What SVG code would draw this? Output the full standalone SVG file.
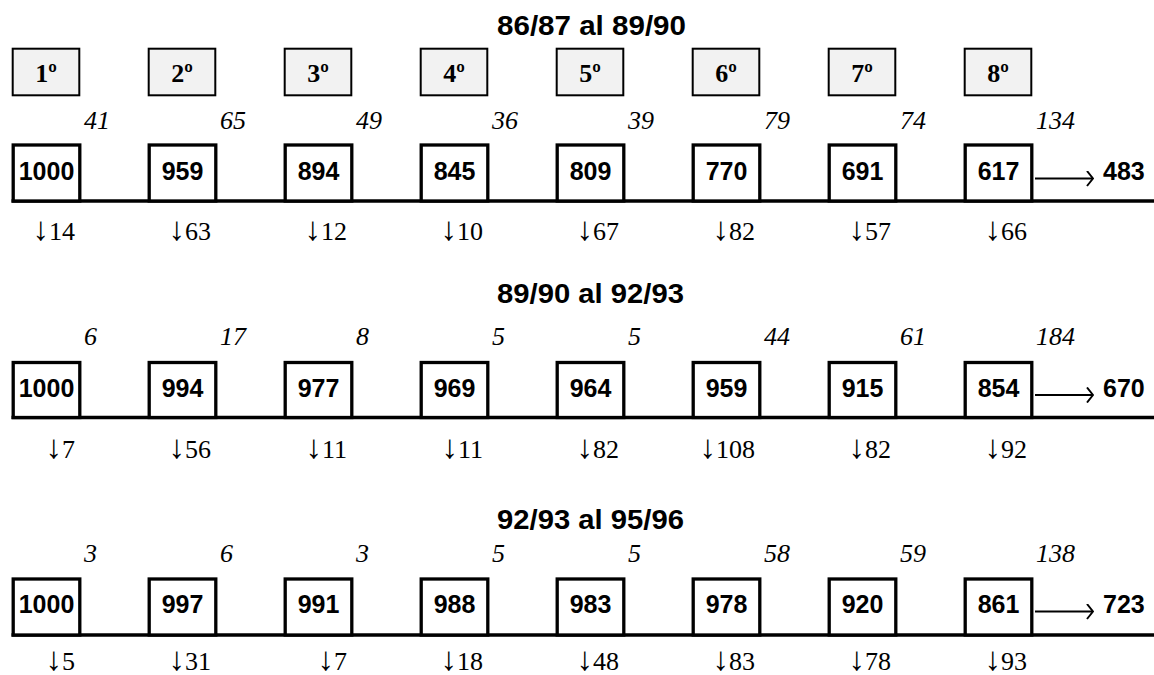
<svg xmlns="http://www.w3.org/2000/svg" width="1154" height="675" viewBox="0 0 1154 675">
<style>
.bg{fill:#ffffff}
.ord rect{fill:#f2f2f2;stroke:#000;stroke-width:2}
.ord text{font-family:"Liberation Serif","Times New Roman",serif;font-weight:bold;font-size:26px;text-anchor:middle;fill:#000}
.val rect{fill:#fff;stroke:#000;stroke-width:3.3}
.val text{font-family:"Liberation Sans",Arial,sans-serif;font-weight:bold;font-size:25px;text-anchor:middle;fill:#000}
.title{font-family:"Liberation Sans",Arial,sans-serif;font-weight:bold;font-size:28px;fill:#000}
.it{font-family:"Liberation Serif","Times New Roman",serif;font-style:italic;font-size:26px;fill:#000}
.dn{font-family:"Liberation Serif","Times New Roman",serif;font-size:26px;text-anchor:end;fill:#000}
.ar{font-size:33px}
.res{font-family:"Liberation Sans",Arial,sans-serif;font-weight:bold;font-size:25px;fill:#000}
.base{stroke:#000;stroke-width:3.3;fill:none}
.arr{stroke:#000;stroke-width:2;fill:none;marker-end:url(#chev)}
</style>
<defs>
<marker id="chev" markerUnits="userSpaceOnUse" viewBox="0 0 8 16" markerWidth="8" markerHeight="16" refX="7" refY="8" orient="auto">
<path d="M1,0.5 L7,8 L1,15.5" fill="none" stroke="#000" stroke-width="2"/>
</marker>
</defs>
<rect class="bg" x="0" y="0" width="1154" height="675"/>

<!-- Titles -->
<text id="title1" class="title" x="497" y="35" textLength="189" lengthAdjust="spacingAndGlyphs">86/87 al 89/90</text>
<text id="title2" class="title" x="497" y="303" textLength="187" lengthAdjust="spacingAndGlyphs">89/90 al 92/93</text>
<text id="title3" class="title" x="497" y="529" textLength="187" lengthAdjust="spacingAndGlyphs">92/93 al 95/96</text>

<!-- Course header nodes -->
<g id="ord1" class="ord"><rect x="12.7" y="48.7" width="66.6" height="46.6"/><text x="46" y="82">1º</text></g>
<g id="ord2" class="ord"><rect x="148.7" y="48.7" width="66.6" height="46.6"/><text x="182" y="82">2º</text></g>
<g id="ord3" class="ord"><rect x="284.7" y="48.7" width="66.6" height="46.6"/><text x="318" y="82">3º</text></g>
<g id="ord4" class="ord"><rect x="420.7" y="48.7" width="66.6" height="46.6"/><text x="454" y="82">4º</text></g>
<g id="ord5" class="ord"><rect x="556.7" y="48.7" width="66.6" height="46.6"/><text x="590" y="82">5º</text></g>
<g id="ord6" class="ord"><rect x="692.7" y="48.7" width="66.6" height="46.6"/><text x="726" y="82">6º</text></g>
<g id="ord7" class="ord"><rect x="828.7" y="48.7" width="66.6" height="46.6"/><text x="862" y="82">7º</text></g>
<g id="ord8" class="ord"><rect x="964.7" y="48.7" width="66.6" height="46.6"/><text x="998" y="82">8º</text></g>

<!-- Connectors -->
<g id="connectors">
<line class="base" x1="11.5" y1="201" x2="1154" y2="201"/>
<line class="base" x1="11.5" y1="417.5" x2="1154" y2="417.5"/>
<line class="base" x1="11.5" y1="635" x2="1154" y2="635"/>
<line class="arr" x1="1035" y1="178.5" x2="1093" y2="178.5"/>
<line class="arr" x1="1035" y1="395" x2="1093" y2="395"/>
<line class="arr" x1="1035" y1="611.5" x2="1093" y2="611.5"/>
</g>

<!-- Row 1 -->
<g id="row1-labels">
<text class="it" x="84" y="129">41</text>
<text class="it" x="220" y="129">65</text>
<text class="it" x="356" y="129">49</text>
<text class="it" x="492" y="129">36</text>
<text class="it" x="628" y="129">39</text>
<text class="it" x="764" y="129">79</text>
<text class="it" x="900" y="129">74</text>
<text class="it" x="1036" y="129">134</text>
<text class="dn" x="75" y="240"><tspan class="ar">↓</tspan>14</text>
<text class="dn" x="211" y="240"><tspan class="ar">↓</tspan>63</text>
<text class="dn" x="347" y="240"><tspan class="ar">↓</tspan>12</text>
<text class="dn" x="483" y="240"><tspan class="ar">↓</tspan>10</text>
<text class="dn" x="619" y="240"><tspan class="ar">↓</tspan>67</text>
<text class="dn" x="755" y="240"><tspan class="ar">↓</tspan>82</text>
<text class="dn" x="891" y="240"><tspan class="ar">↓</tspan>57</text>
<text class="dn" x="1027" y="240"><tspan class="ar">↓</tspan>66</text>
</g>
<g id="r1n1" class="val"><rect x="13.2" y="145" width="66.6" height="56"/><text x="46.5" y="179.5">1000</text></g>
<g id="r1n2" class="val"><rect x="149.2" y="145" width="66.6" height="56"/><text x="182.5" y="179.5">959</text></g>
<g id="r1n3" class="val"><rect x="285.2" y="145" width="66.6" height="56"/><text x="318.5" y="179.5">894</text></g>
<g id="r1n4" class="val"><rect x="421.2" y="145" width="66.6" height="56"/><text x="454.5" y="179.5">845</text></g>
<g id="r1n5" class="val"><rect x="557.2" y="145" width="66.6" height="56"/><text x="590.5" y="179.5">809</text></g>
<g id="r1n6" class="val"><rect x="693.2" y="145" width="66.6" height="56"/><text x="726.5" y="179.5">770</text></g>
<g id="r1n7" class="val"><rect x="829.2" y="145" width="66.6" height="56"/><text x="862.5" y="179.5">691</text></g>
<g id="r1n8" class="val"><rect x="965.2" y="145" width="66.6" height="56"/><text x="998.5" y="179.5">617</text></g>
<g id="r1out"><text class="res" x="1103" y="180">483</text></g>

<!-- Row 2 -->
<g id="row2-labels">
<text class="it" x="84" y="345">6</text>
<text class="it" x="220" y="345">17</text>
<text class="it" x="356" y="345">8</text>
<text class="it" x="492" y="345">5</text>
<text class="it" x="628" y="345">5</text>
<text class="it" x="764" y="345">44</text>
<text class="it" x="900" y="345">61</text>
<text class="it" x="1036" y="345">184</text>
<text class="dn" x="75" y="458"><tspan class="ar">↓</tspan>7</text>
<text class="dn" x="211" y="458"><tspan class="ar">↓</tspan>56</text>
<text class="dn" x="347" y="458"><tspan class="ar">↓</tspan>11</text>
<text class="dn" x="483" y="458"><tspan class="ar">↓</tspan>11</text>
<text class="dn" x="619" y="458"><tspan class="ar">↓</tspan>82</text>
<text class="dn" x="755" y="458"><tspan class="ar">↓</tspan>108</text>
<text class="dn" x="891" y="458"><tspan class="ar">↓</tspan>82</text>
<text class="dn" x="1027" y="458"><tspan class="ar">↓</tspan>92</text>
</g>
<g id="r2n1" class="val"><rect x="13.2" y="362.5" width="66.6" height="55"/><text x="46.5" y="397">1000</text></g>
<g id="r2n2" class="val"><rect x="149.2" y="362.5" width="66.6" height="55"/><text x="182.5" y="397">994</text></g>
<g id="r2n3" class="val"><rect x="285.2" y="362.5" width="66.6" height="55"/><text x="318.5" y="397">977</text></g>
<g id="r2n4" class="val"><rect x="421.2" y="362.5" width="66.6" height="55"/><text x="454.5" y="397">969</text></g>
<g id="r2n5" class="val"><rect x="557.2" y="362.5" width="66.6" height="55"/><text x="590.5" y="397">964</text></g>
<g id="r2n6" class="val"><rect x="693.2" y="362.5" width="66.6" height="55"/><text x="726.5" y="397">959</text></g>
<g id="r2n7" class="val"><rect x="829.2" y="362.5" width="66.6" height="55"/><text x="862.5" y="397">915</text></g>
<g id="r2n8" class="val"><rect x="965.2" y="362.5" width="66.6" height="55"/><text x="998.5" y="397">854</text></g>
<g id="r2out"><text class="res" x="1103" y="397">670</text></g>

<!-- Row 3 -->
<g id="row3-labels">
<text class="it" x="84" y="562">3</text>
<text class="it" x="220" y="562">6</text>
<text class="it" x="356" y="562">3</text>
<text class="it" x="492" y="562">5</text>
<text class="it" x="628" y="562">5</text>
<text class="it" x="764" y="562">58</text>
<text class="it" x="900" y="562">59</text>
<text class="it" x="1036" y="562">138</text>
<text class="dn" x="75" y="670"><tspan class="ar">↓</tspan>5</text>
<text class="dn" x="211" y="670"><tspan class="ar">↓</tspan>31</text>
<text class="dn" x="347" y="670"><tspan class="ar">↓</tspan>7</text>
<text class="dn" x="483" y="670"><tspan class="ar">↓</tspan>18</text>
<text class="dn" x="619" y="670"><tspan class="ar">↓</tspan>48</text>
<text class="dn" x="755" y="670"><tspan class="ar">↓</tspan>83</text>
<text class="dn" x="891" y="670"><tspan class="ar">↓</tspan>78</text>
<text class="dn" x="1027" y="670"><tspan class="ar">↓</tspan>93</text>
</g>
<g id="r3n1" class="val"><rect x="13.2" y="579" width="66.6" height="56"/><text x="46.5" y="613">1000</text></g>
<g id="r3n2" class="val"><rect x="149.2" y="579" width="66.6" height="56"/><text x="182.5" y="613">997</text></g>
<g id="r3n3" class="val"><rect x="285.2" y="579" width="66.6" height="56"/><text x="318.5" y="613">991</text></g>
<g id="r3n4" class="val"><rect x="421.2" y="579" width="66.6" height="56"/><text x="454.5" y="613">988</text></g>
<g id="r3n5" class="val"><rect x="557.2" y="579" width="66.6" height="56"/><text x="590.5" y="613">983</text></g>
<g id="r3n6" class="val"><rect x="693.2" y="579" width="66.6" height="56"/><text x="726.5" y="613">978</text></g>
<g id="r3n7" class="val"><rect x="829.2" y="579" width="66.6" height="56"/><text x="862.5" y="613">920</text></g>
<g id="r3n8" class="val"><rect x="965.2" y="579" width="66.6" height="56"/><text x="998.5" y="613">861</text></g>
<g id="r3out"><text class="res" x="1103" y="613">723</text></g>
</svg>
